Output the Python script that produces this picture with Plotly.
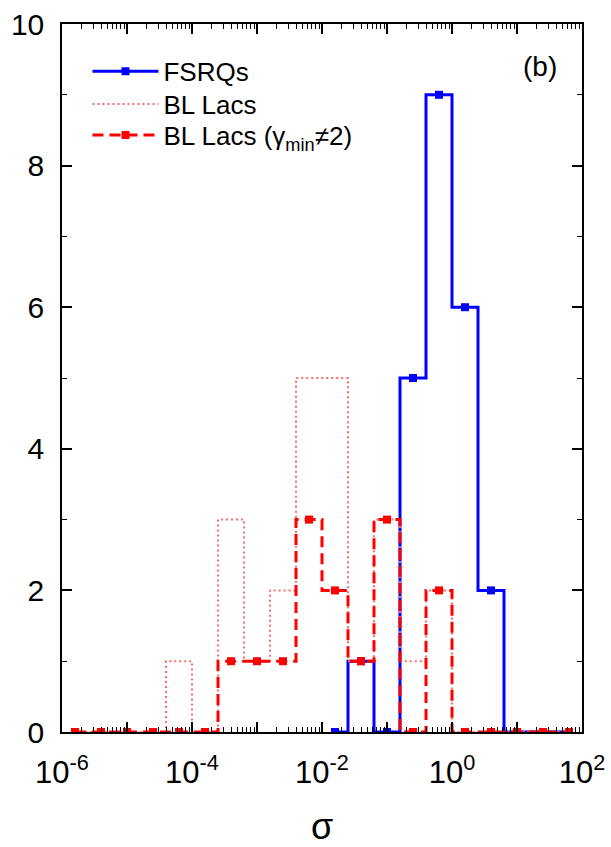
import plotly.graph_objects as go

# ---- data ----
# bin centres in log10(sigma), bin width 0.4 dex
log_centers = [-5.8, -5.4, -5.0, -4.6, -4.2, -3.8, -3.4, -3.0, -2.6, -2.2,
               -1.8, -1.4, -1.0, -0.6, -0.2, 0.2, 0.6, 1.0, 1.4, 1.8]
fsrq_log_centers = [-1.8, -1.4, -1.0, -0.6, -0.2, 0.2, 0.6, 1.0, 1.4, 1.8]
fsrq_counts = [0, 1, 0, 5, 9, 6, 2, 0, 0, 0]
bllac_counts = [0, 0, 0, 0, 1, 0, 3, 1, 2, 5,
                5, 1, 3, 1, 2, 0, 0, 0, 0, 0]
bllac_gmin_counts = [0, 0, 0, 0, 0, 0, 1, 1, 1, 3,
                     2, 1, 3, 0, 2, 0, 0, 0, 0, 0]

x_tick_exponents = [-6, -5, -4, -3, -2, -1, 0, 1, 2]
x_tick_labels = ["10<sup>-6</sup>", "", "10<sup>-4</sup>", "", "10<sup>-2</sup>",
                 "", "10<sup>0</sup>", "", "10<sup>2</sup>"]

FONT = "Liberation Sans, Arial, sans-serif"

x_all = [10 ** c for c in log_centers]
x_fsrq = [10 ** c for c in fsrq_log_centers]

fig = go.Figure()
fig.add_trace(go.Scatter(
    x=x_fsrq, y=fsrq_counts, name="FSRQs", mode="lines+markers",
    legend="legend",
    line=dict(color="#0000ff", width=3, shape="hvh"),
    marker=dict(symbol="square", size=8, color="#0000ff")))
fig.add_trace(go.Scatter(
    x=x_all, y=bllac_counts, name="BL Lacs", mode="lines",
    legend="legend2",
    line=dict(color="#ff6a6a", width=2, shape="hvh", dash="2px,3px")))
fig.add_trace(go.Scatter(
    x=x_all, y=bllac_gmin_counts, name="BL Lacs (γ<sub>min</sub>≠2)",
    mode="lines+markers", legend="legend3",
    line=dict(color="#ff0000", width=3, shape="hvh", dash="11px,6px"),
    marker=dict(symbol="square", size=8, color="#ff0000")))

minor_x = [k * 10 ** e for e in range(-6, 2) for k in range(2, 10)]

fig.update_xaxes(
    type="log", range=[-6, 2],
    tickvals=[10 ** e for e in x_tick_exponents], ticktext=x_tick_labels,
    ticks="inside", ticklen=10, tickwidth=1.5, tickcolor="black",
    showline=True, linecolor="black", linewidth=1.5, mirror="ticks",
    showgrid=False, zeroline=False,
    minor=dict(tickvals=minor_x, ticks="inside", ticklen=5,
               tickwidth=1.2, tickcolor="black", showgrid=False),
    tickfont=dict(size=31, color="black", family=FONT),
    ticklabelstandoff=12,
    title=dict(text="σ", font=dict(size=36, color="black", family=FONT),
               standoff=36),
)
fig.update_yaxes(
    range=[0, 10], tickvals=[0, 2, 4, 6, 8, 10],
    ticks="inside", ticklen=10, tickwidth=1.5, tickcolor="black",
    showline=True, linecolor="black", linewidth=1.5, mirror="ticks",
    showgrid=False, zeroline=False,
    minor=dict(tickvals=[1, 3, 5, 7, 9], ticks="inside", ticklen=5,
               tickwidth=1.2, tickcolor="black", showgrid=False),
    tickfont=dict(size=30, color="black", family=FONT),
    ticklabelstandoff=10,
)

fig.add_annotation(text="(b)", x=0.92, y=0.94, xref="paper", yref="paper",
                   showarrow=False, font=dict(size=28, color="black", family=FONT),
                   xanchor="center", yanchor="middle")

leg_common = dict(x=0.049, xanchor="left", yanchor="middle",
                  bgcolor="rgba(0,0,0,0)", itemwidth=66,
                  font=dict(size=26, color="black", family=FONT))

fig.update_layout(
    width=611, height=847,
    margin=dict(l=62, r=29, t=24, b=115),
    paper_bgcolor="white", plot_bgcolor="white",
    template="none",
    font=dict(family=FONT, color="black"),
    legend=dict(y=0.933, **leg_common),
    legend2=dict(y=0.887, **leg_common),
    legend3=dict(y=0.843, **leg_common),
    showlegend=True,
)

fig.write_html("out.html")
